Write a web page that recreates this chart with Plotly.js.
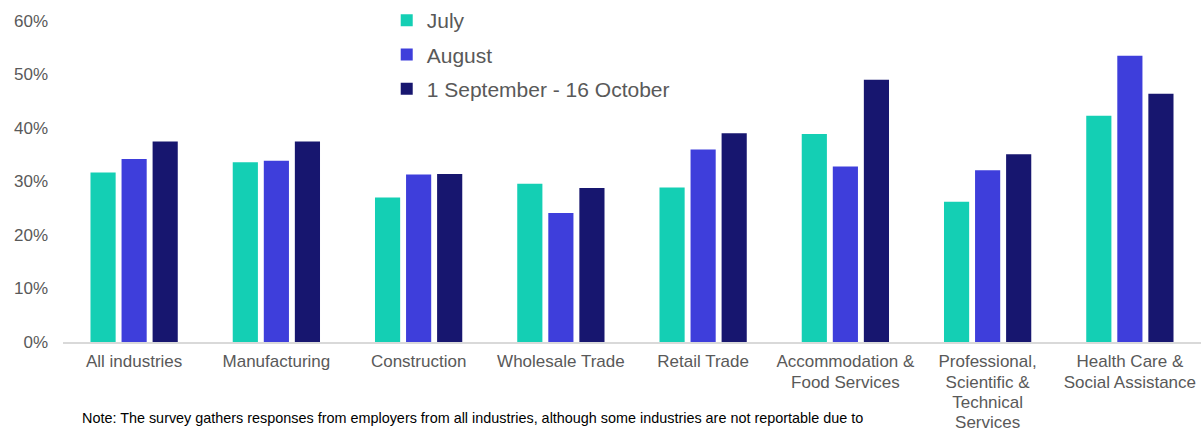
<!DOCTYPE html>
<html>
<head>
<meta charset="utf-8">
<script src="https://cdn.plot.ly/plotly-3.0.1.min.js"></script>
<style>
html,body{margin:0;padding:0;background:#fff;}
#chart{width:1201px;height:430px;}
</style>
</head>
<body>
<div id="chart"></div>
<script>
const categories = [
  "All industries",
  "Manufacturing",
  "Construction",
  "Wholesale Trade",
  "Retail Trade",
  "Accommodation &<br>Food Services",
  "Professional,<br>Scientific &<br>Technical<br>Services",
  "Health Care &<br>Social Assistance"
];
const seriesNames = ["July", "August", "1 September - 16 October"];
const july   = [0.317, 0.336, 0.270, 0.296, 0.289, 0.389, 0.262, 0.423];
const august = [0.342, 0.339, 0.313, 0.241, 0.360, 0.328, 0.321, 0.535];
const sepOct = [0.375, 0.375, 0.314, 0.288, 0.390, 0.490, 0.351, 0.464];
const yTicks = [0, 0.1, 0.2, 0.3, 0.4, 0.5, 0.6];
const noteText = "Note: The survey gathers responses from employers from all industries, although some industries are not reportable due to";

const colors = ["#14CFB4", "#3E3EDB", "#17166F"];
const values = [july, august, sepOct];

// tick label lines drawn at 17px with tighter (~20px) line spacing
const tickText = categories.map(c =>
  c.split("<br>").map(l => '<span style="font-size:17px">' + l + '</span>').join("<br>")
);

const traces = values.map((v, i) => ({
  type: "bar",
  name: seriesNames[i],
  x: categories,
  y: v,
  legendgroup: "g" + i,
  marker: {color: colors[i], line: {width: 0}},
  hoverinfo: "skip"
}));

const layout = {
  width: 1201,
  height: 430,
  margin: {l: 63, r: 0, t: 21, b: 88, autoexpand: false},
  paper_bgcolor: "#fff",
  plot_bgcolor: "#fff",
  font: {family: "Liberation Sans, Arial, sans-serif", color: "#595959"},
  barmode: "group",
  bargap: 0.345,
  bargroupgap: 0.19,
  showlegend: true,
  legend: {
    xref: "container", yref: "container",
    x: 0.322, y: 1.0, xanchor: "left", yanchor: "top",
    font: {size: 21, color: "#595959"},
    tracegroupgap: 4,
    bgcolor: "rgba(0,0,0,0)"
  },
  xaxis: {
    type: "category",
    showgrid: false,
    zeroline: false,
    showline: true,
    linecolor: "#d9d9d9",
    linewidth: 2,
    ticks: "",
    tickangle: 0,
    tickmode: "array",
    tickvals: categories,
    ticktext: tickText,
    ticklabelstandoff: 5,
    tickfont: {size: 15.4, color: "#595959"},
    automargin: false
  },
  yaxis: {
    range: [0, 0.6],
    tickvals: yTicks,
    tickformat: ".0%",
    showgrid: false,
    zeroline: false,
    showline: false,
    ticks: "",
    ticklabelstandoff: 14,
    tickfont: {size: 17, color: "#595959"},
    automargin: false
  },
  annotations: [{
    text: noteText,
    xref: "paper", yref: "paper",
    x: (80 - 63) / 1138, y: (342 - 418) / 321,
    xanchor: "left", yanchor: "middle",
    showarrow: false,
    font: {size: 14.4, color: "#000000"}
  }]
};

Plotly.newPlot("chart", traces, layout, {displayModeBar: false, staticPlot: true});
</script>
</body>
</html>
